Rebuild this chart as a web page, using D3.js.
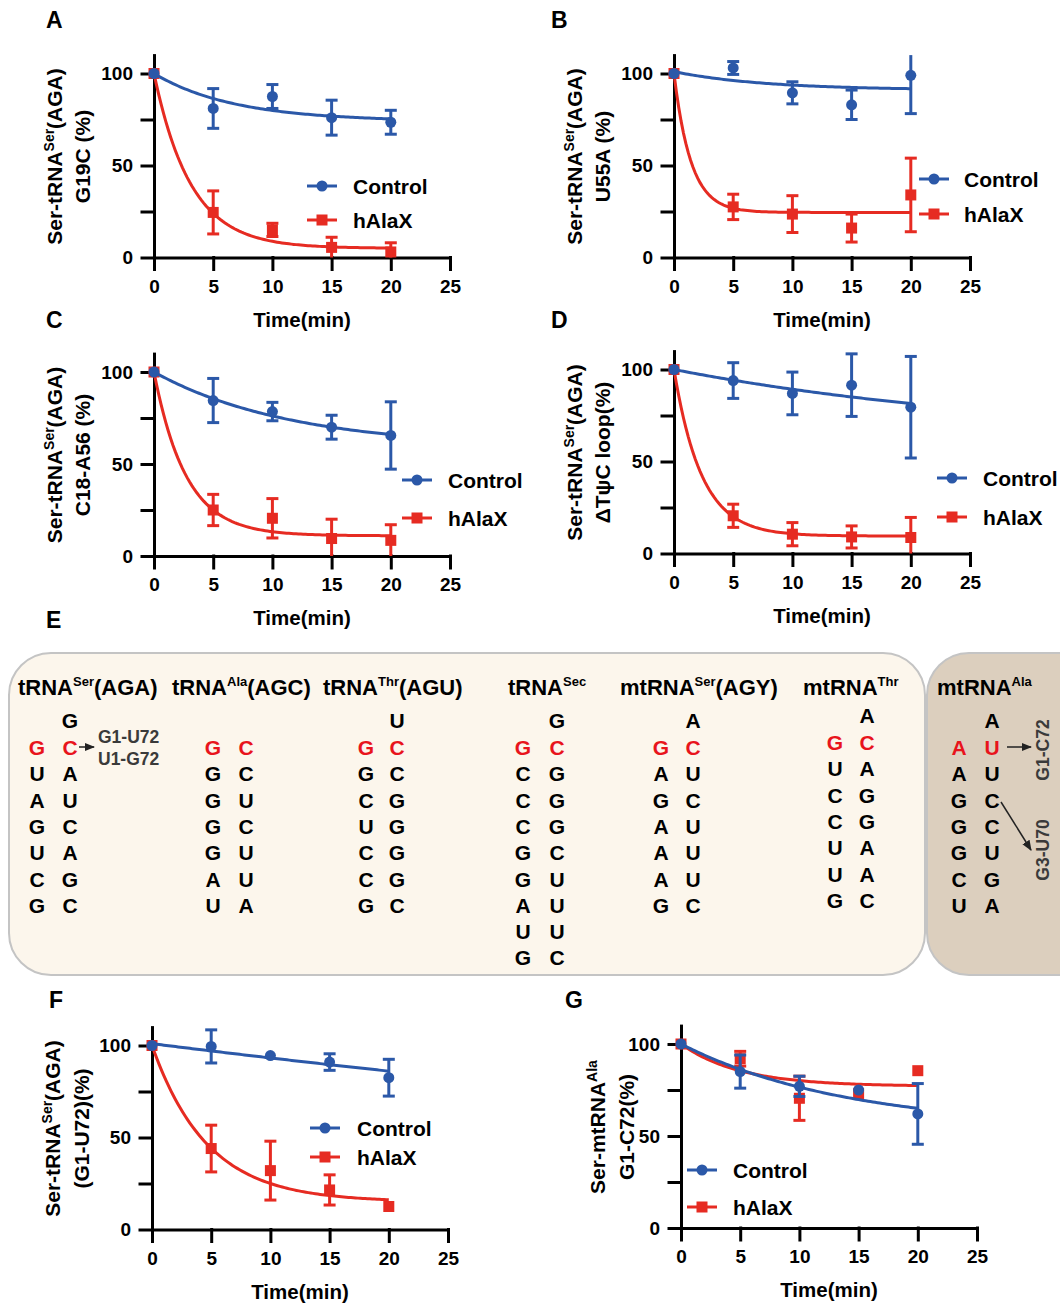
<!DOCTYPE html>
<meta charset="utf-8">
<style>
body { margin: 0; background: #fff; }
svg text { font-family: "Liberation Sans", Arial, Helvetica, sans-serif; font-weight: bold; }
</style>
<svg width="1060" height="1307"></svg>
<script src="https://d3js.org/d3.v7.min.js"></script>
<script>

// ---- data ----
var timePoints = [0, 5, 10, 15, 20];
var xTicks = [0, 5, 10, 15, 20, 25];
var yTicks = [0, 25, 50, 75, 100];
var yLabeled = [0, 50, 100];
var seriesNames = ["Control", "hAlaX"];

// A  G19C
var controlA = [100, 81, 87.5, 76, 73.5];
var controlA_err = [0, 10.8, 6.5, 9.5, 6.5];
var halaxA = [100, 24.5, 15, 5.5, 3];
var halaxA_err = [0, 11.7, 3.6, 5.5, 5];
// one-phase decay fits: [Y0, plateau, K]  (control, hAlaX)
var fitA = [[100, 74, 0.148], [100, 5, 0.322]];

// B  U55A
var controlB = [100, 103, 89.5, 83, 99];
var controlB_err = [0, 3.5, 6, 8, 20.8];
var halaxB = [100, 27.5, 23.6, 16, 34];
var halaxB_err = [0, 6.9, 10, 7.6, 20];
var fitB = [[101, 91, 0.13], [100, 24.5, 0.7]];

// C  C18-A56
var controlC = [100, 84.5, 78.5, 70, 65.5];
var controlC_err = [0, 12, 5, 6.5, 18.3];
var halaxC = [100, 25, 20.5, 9.5, 8.5];
var halaxC_err = [0, 8.5, 10.7, 10.5, 8.5];
var fitC = [[100, 58.6, 0.086], [100, 11, 0.37]];

// D  deltaTpsiC loop
var controlD = [100, 94, 87, 91.5, 79.5];
var controlD_err = [0, 9.7, 11.6, 17, 27.6];
var halaxD = [100, 20.5, 10.5, 9, 8.7];
var halaxD_err = [0, 6.3, 6.3, 6, 10.9];
var fitD = [[100, 61.3, 0.0325], [100, 9.5, 0.43]];

// F  G1-U72
var controlF = [100, 99.5, 94.5, 91, 82.5];
var controlF_err = [0, 9, 0, 4.5, 10];
var halaxF = [100, 44, 32, 21.5, 12.5];
var halaxF_err = [0, 12.7, 16, 8.2, 0];
var fitF = [[101, 0, 0.008], [100, 15, 0.214]];

// G  mtRNA-Ala G1-C72
var controlG = [100, 85, 77, 75, 62];
var controlG_err = [0, 9, 5.5, 0, 16.5];
var halaxG = [100, 92, 70.5, 73, 85.5];
var halaxG_err = [0, 4, 12, 0, 0];
var fitG = [[100, 54, 0.0713], [100, 77, 0.2]];

// E  acceptor stems
var eNames = ["tRNA", "tRNA", "tRNA", "tRNA", "mtRNA", "mtRNA", "mtRNA"];
var eSups = ["Ser", "Ala", "Thr", "Sec", "Ser", "Thr", "Ala"];
var eSuffix = ["(AGA)", "(AGC)", "(AGU)", "", "(AGY)", "", ""];
var eTop = ["G", "", "U", "G", "A", "A", "A"];
var eLeft = ["GUAGUCG", "GGGGGAU", "GGCUCCG", "GCCCGGAUG", "GAGAAAG", "GUCCUUG", "AAGGGCU"];
var eRight = ["CAUCAGC", "CCUCUUA", "CCGGGGC", "CGGGCUUUC", "CUCUUUC", "CAGGAAC", "UUCCUGA"];

// ---- layout ----
var blue = "#2b58a8", red = "#e62b22";
var colors = [blue, red];
var svg = d3.select("svg");

var panels = [
  {id: "A", vals: [controlA, halaxA], errs: [controlA_err, halaxA_err], fit: fitA, x0: 154, y0: 257.5,
   lab1: ["Ser-tRNA", "Ser", "(AGA)"], lab2: "G19C (%)", tOff: [-100, -72], leg: [307, 186, 220, 353], letter: [46, 28]},
  {id: "B", vals: [controlB, halaxB], errs: [controlB_err, halaxB_err], fit: fitB, x0: 674, y0: 257.5,
   lab1: ["Ser-tRNA", "Ser", "(AGA)"], lab2: "U55A (%)", tOff: [-100, -72], leg: [919, 179, 214, 964], letter: [551, 28]},
  {id: "C", vals: [controlC, halaxC], errs: [controlC_err, halaxC_err], fit: fitC, x0: 154, y0: 556,
   lab1: ["Ser-tRNA", "Ser", "(AGA)"], lab2: "C18-A56 (%)", tOff: [-100, -72], leg: [402, 480, 518, 448], letter: [46, 328]},
  {id: "D", vals: [controlD, halaxD], errs: [controlD_err, halaxD_err], fit: fitD, x0: 674, y0: 553.5,
   lab1: ["Ser-tRNA", "Ser", "(AGA)"], lab2: "\u0394T\u03c8C loop(%)", tOff: [-100, -72], leg: [937, 478, 517, 983], letter: [551, 328]},
  {id: "F", vals: [controlF, halaxF], errs: [controlF_err, halaxF_err], fit: fitF, x0: 152, y0: 1229.5,
   lab1: ["Ser-tRNA", "Ser", "(AGA)"], lab2: "(G1-U72)(%)", tOff: [-100, -71], leg: [310, 1128, 1157, 357], letter: [49, 1008]},
  {id: "G", vals: [controlG, halaxG], errs: [controlG_err, halaxG_err], fit: fitG, x0: 681, y0: 1228,
   lab1: ["Ser-mtRNA", "Ala", ""], lab2: "G1-C72(%)", tOff: [-84, -55], leg: [687, 1170, 1207, 733], letter: [565, 1008]}
];

function drawPanel(p) {
  var g = svg.append("g");
  var x = d3.scaleLinear().domain([0, 25]).range([p.x0, p.x0 + 296]);
  var y = d3.scaleLinear().domain([0, 110]).range([p.y0, p.y0 - 202.4]);

  var ya = g.append("g").attr("transform", "translate(" + p.x0 + ",0)")
    .call(d3.axisLeft(y).tickValues(yTicks).tickSize(12).tickSizeOuter(0).tickPadding(9)
      .tickFormat(function(d) { return yLabeled.indexOf(d) >= 0 ? d : ""; }));
  var xa = g.append("g").attr("transform", "translate(0," + p.y0 + ")")
    .call(d3.axisBottom(x).tickValues(xTicks).tickSize(12).tickSizeOuter(0).tickPadding(10));
  [ya, xa].forEach(function(a) {
    a.style("font-size", "19px");
    a.selectAll("path, line").attr("stroke", "#000").attr("stroke-width", 3).attr("stroke-linecap", "square");
    a.selectAll("text").attr("fill", "#000");
  });

  // series: hAlaX below, control on top
  [1, 0].forEach(function(s) {
    var c = colors[s];
    var f = p.fit[s];
    var ts = d3.range(0, 20.001, 0.2);
    var line = d3.line().x(function(d) { return x(d[0]); }).y(function(d) { return y(d[1]); });
    g.append("path")
      .datum(ts.map(function(t) { return [t, f[1] + (f[0] - f[1]) * Math.exp(-f[2] * t)]; }))
      .attr("d", line).attr("fill", "none").attr("stroke", c).attr("stroke-width", 3);

    var pts = timePoints.map(function(t, i) { return {t: t, v: p.vals[s][i], e: p.errs[s][i]}; });
    var eb = g.append("g").attr("stroke", c).attr("stroke-width", 3);
    pts.filter(function(d) { return d.e > 0; }).forEach(function(d) {
      var lo = Math.max(0, d.v - d.e), hi = Math.min(110, d.v + d.e);
      var cx = x(d.t);
      eb.append("line").attr("x1", cx).attr("x2", cx).attr("y1", y(lo)).attr("y2", y(hi));
      if (d.v - d.e > 0) eb.append("line").attr("x1", cx - 6).attr("x2", cx + 6).attr("y1", y(lo)).attr("y2", y(lo));
      if (d.v + d.e < 110) eb.append("line").attr("x1", cx - 6).attr("x2", cx + 6).attr("y1", y(hi)).attr("y2", y(hi));
    });
    if (s === 0) {
      g.selectAll(null).data(pts).enter().append("circle")
        .attr("cx", function(d) { return x(d.t); }).attr("cy", function(d) { return y(d.v); })
        .attr("r", 5.5).attr("fill", c);
    } else {
      g.selectAll(null).data(pts).enter().append("rect")
        .attr("x", function(d) { return x(d.t) - 5.5; }).attr("y", function(d) { return y(d.v) - 5.5; })
        .attr("width", 11).attr("height", 11).attr("fill", c);
    }
  });

  // legend
  seriesNames.forEach(function(name, s) {
    var ly = p.leg[1 + s], lx = p.leg[0];
    g.append("line").attr("x1", lx).attr("x2", lx + 30).attr("y1", ly).attr("y2", ly)
      .attr("stroke", colors[s]).attr("stroke-width", 3);
    if (s === 0) g.append("circle").attr("cx", lx + 15).attr("cy", ly).attr("r", 5.5).attr("fill", colors[s]);
    else g.append("rect").attr("x", lx + 9.5).attr("y", ly - 5.5).attr("width", 11).attr("height", 11).attr("fill", colors[s]);
    g.append("text").attr("x", p.leg[3]).attr("y", ly).attr("dy", "0.36em")
      .style("font-size", "21px").attr("fill", "#000").text(name);
  });

  // axis titles
  g.append("text").attr("x", p.x0 + 148).attr("y", p.y0 + 69).attr("text-anchor", "middle")
    .style("font-size", "20.5px").attr("fill", "#000").text("Time(min)");

  var cy = p.y0 - 101;
  var t1 = g.append("text").attr("transform", "translate(" + (p.x0 + p.tOff[0]) + "," + cy + ") rotate(-90)")
    .attr("y", 7.5).attr("text-anchor", "middle").style("font-size", "21px").attr("fill", "#000");
  t1.append("tspan").text(p.lab1[0]);
  t1.append("tspan").attr("dy", -8).style("font-size", "14px").text(p.lab1[1]);
  if (p.lab1[2]) t1.append("tspan").attr("dy", 8).text(p.lab1[2]);
  g.append("text").attr("transform", "translate(" + (p.x0 + p.tOff[1]) + "," + cy + ") rotate(-90)")
    .attr("y", 7.5).attr("text-anchor", "middle").style("font-size", "21px").attr("fill", "#000").text(p.lab2);

  svg.append("text").attr("x", p.letter[0]).attr("y", p.letter[1]).style("font-size", "23px")
    .attr("fill", "#000").text(p.id);
}

panels.forEach(drawPanel);

// ---- panel E ----
svg.append("text").attr("x", 46).attr("y", 628).style("font-size", "23px").attr("fill", "#000").text("E");

var defs = svg.append("defs");
defs.append("marker").attr("id", "arr").attr("viewBox", "0 0 10 10").attr("refX", 9).attr("refY", 5)
  .attr("markerWidth", 7).attr("markerHeight", 7).attr("orient", "auto")
  .append("path").attr("d", "M0,1L10,5L0,9z").attr("fill", "#222");

svg.append("rect").attr("x", 9).attr("y", 653).attr("width", 916).attr("height", 322).attr("rx", 42)
  .attr("fill", "#fcf6ec").attr("stroke", "#c4c4c4").attr("stroke-width", 2);
svg.append("rect").attr("x", 927).attr("y", 653).attr("width", 180).attr("height", 322).attr("rx", 42)
  .attr("fill", "#dccfbe").attr("stroke", "#c4c4c4").attr("stroke-width", 2);

var eTitleX = [18, 172, 323, 508, 620, 803, 937];
var eColX = [[37, 70], [213, 246], [366, 397], [523, 557], [661, 693], [835, 867], [959, 992]];
var eShift = [0, 0, 0, 0, 0, -5, 0];
var eTopY = 728, ePairY = 755, eStep = 26.3;

eNames.forEach(function(name, i) {
  var t = svg.append("text").attr("x", eTitleX[i]).attr("y", 695).style("font-size", "22px").attr("fill", "#000");
  t.append("tspan").text(name);
  t.append("tspan").attr("dy", -9).style("font-size", "13px").text(eSups[i]);
  if (eSuffix[i]) t.append("tspan").attr("dy", 9).text(eSuffix[i]);

  var g = svg.append("g").style("font-size", "21px").attr("text-anchor", "middle");
  if (eTop[i]) g.append("text").attr("x", eColX[i][1]).attr("y", eTopY + eShift[i]).attr("fill", "#000").text(eTop[i]);
  eLeft[i].split("").forEach(function(b, r) {
    var yy = ePairY + eShift[i] + r * eStep;
    var col = r === 0 ? "#e8141c" : "#000";
    g.append("text").attr("x", eColX[i][0]).attr("y", yy).attr("fill", col).text(b);
    g.append("text").attr("x", eColX[i][1]).attr("y", yy).attr("fill", col).text(eRight[i][r]);
  });
});

// annotations
svg.append("line").attr("x1", 79).attr("y1", 747).attr("x2", 94).attr("y2", 747)
  .attr("stroke", "#222").attr("stroke-width", 1.5).attr("marker-end", "url(#arr)");
svg.append("text").attr("x", 98).attr("y", 743).style("font-size", "17.5px").attr("fill", "#3a3a3a").text("G1-U72");
svg.append("text").attr("x", 98).attr("y", 765).style("font-size", "17.5px").attr("fill", "#3a3a3a").text("U1-G72");

svg.append("line").attr("x1", 1007).attr("y1", 747).attr("x2", 1031).attr("y2", 747)
  .attr("stroke", "#222").attr("stroke-width", 1.5).attr("marker-end", "url(#arr)");
svg.append("line").attr("x1", 1001).attr("y1", 802).attr("x2", 1031).attr("y2", 850)
  .attr("stroke", "#222").attr("stroke-width", 1.5).attr("marker-end", "url(#arr)");
[["G1-C72", 750], ["G3-U70", 850]].forEach(function(a) {
  svg.append("text").attr("transform", "translate(1043," + a[1] + ") rotate(-90)")
    .attr("y", 6).attr("text-anchor", "middle").style("font-size", "17.5px").attr("fill", "#3a3a3a").text(a[0]);
});

</script>
